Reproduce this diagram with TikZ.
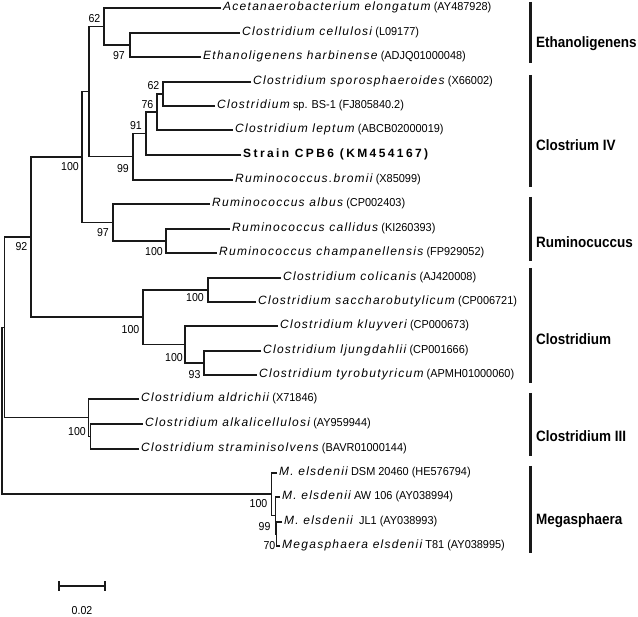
\documentclass[tikz,border=0pt]{standalone}
\usepackage{fontspec}
\setmainfont{Liberation Sans}
\newfontfamily\spfam{Liberation Sans}[LetterSpace=10.5]
\newfontfamily\accfam{Liberation Sans}[FakeStretch=0.95]
\newfontfamily\stfam{Liberation Sans}[LetterSpace=20]
\newfontfamily\grpfam{Liberation Sans}[FakeStretch=0.9]
\newfontfamily\bsfam{Liberation Sans}[FakeStretch=0.92]
\newcommand\spn[1]{{\spfam\itshape\fontsize{12}{14}\selectfont #1}}
\newcommand\acc[1]{{\accfam\fontsize{11.5}{14}\selectfont #1}}
\tikzset{
  leaf/.style={anchor=west, inner xsep=2pt, inner ysep=0pt, text height=8.5pt, text depth=2.5pt,
    font=\fontsize{11.5}{14}\selectfont},
  branch/.style={line width=1.4pt, draw=black!90},
  bs/.style={inner sep=0pt, font=\bsfam\fontsize{11.5}{13}\selectfont},
  grp/.style={anchor=west, inner sep=0pt, font=\grpfam\bfseries\fontsize{15}{17}\selectfont},
  grpbar/.style={line width=3pt, draw=black!90},
}
\begin{document}
\begin{tikzpicture}[x=1pt,y=-1pt]
\useasboundingbox (0,0) rectangle (638,617);
% leaves
\node[leaf] (l1) at (221,8) {\spn{Acetanaerobacterium elongatum} \acc{(AY487928)}};
\node[leaf] (l2) at (240,33) {\spn{Clostridium cellulosi} \acc{(L09177)}};
\node[leaf] (l3) at (201,57) {\spn{Ethanoligenens harbinense} \acc{(ADJQ01000048)}};
\node[leaf] (l4) at (251,82) {\spn{Clostridium sporosphaeroides} \acc{(X66002)}};
\node[leaf] (l5) at (215,106) {\spn{Clostridium} \acc{sp. BS-1 (FJ805840.2)}};
\node[leaf] (l6) at (233,130) {\spn{Clostridium leptum} \acc{(ABCB02000019)}};
\node[leaf] (l7) at (241,155) {\stfam\bfseries\fontsize{12}{14}\selectfont Strain CPB6 (KM454167)};
\node[leaf] (l8) at (233,180) {\spn{Ruminococcus.bromii} \acc{(X85099)}};
\node[leaf] (l9) at (210,204) {\spn{Ruminococcus albus} \acc{(CP002403)}};
\node[leaf] (l10) at (230,229) {\spn{Ruminococcus callidus} \acc{(KI260393)}};
\node[leaf] (l11) at (217,253) {\spn{Ruminococcus champanellensis} \acc{(FP929052)}};
\node[leaf] (l12) at (281,278) {\spn{Clostridium colicanis} \acc{(AJ420008)}};
\node[leaf] (l13) at (256,302) {\spn{Clostridium saccharobutylicum} \acc{(CP006721)}};
\node[leaf] (l14) at (278,326) {\spn{Clostridium kluyveri} \acc{(CP000673)}};
\node[leaf] (l15) at (261,351) {\spn{Clostridium ljungdahlii} \acc{(CP001666)}};
\node[leaf] (l16) at (257,375) {\spn{Clostridium tyrobutyricum} \acc{(APMH01000060)}};
\node[leaf] (l17) at (139,399) {\spn{Clostridium aldrichii} \acc{(X71846)}};
\node[leaf] (l18) at (143,424) {\spn{Clostridium alkalicellulosi} \acc{(AY959944)}};
\node[leaf] (l19) at (139,449) {\spn{Clostridium straminisolvens} \acc{(BAVR01000144)}};
\node[leaf] (l20) at (277,473) {\spn{M. elsdenii} \acc{DSM 20460 (HE576794)}};
\node[leaf] (l21) at (280,497) {\spn{M. elsdenii} \acc{AW 106 (AY038994)}};
\node[leaf] (l22) at (282,522) {\spn{M. elsdenii} \acc{\ JL1 (AY038993)}};
\node[leaf] (l23) at (280,546) {\spn{Megasphaera elsdenii} \acc{T81 (AY038995)}};
% internal nodes
\coordinate (e97) at (130,45);
\coordinate (n62a) at (104,26.5);
\coordinate (n62b) at (163,94);
\coordinate (n76) at (157,112);
\coordinate (n91) at (146,133.5);
\coordinate (n99) at (133,156.75);
\coordinate (na) at (89,91.6);
\coordinate (r100) at (166,241);
\coordinate (r97) at (113,222.5);
\coordinate (nb) at (82,157);
\coordinate (l100) at (208,290);
\coordinate (n93) at (204,363);
\coordinate (m100) at (185,344.5);
\coordinate (k100) at (143,317);
\coordinate (c92) at (31,237);
\coordinate (g) at (90.5,436.5);
\coordinate (f) at (88.5,417.75);
\coordinate (d) at (4.5,327.4);
\coordinate (j) at (276.5,534);
\coordinate (i) at (275.5,515.5);
\coordinate (h) at (271.5,494);
\coordinate (root) at (2,410.7);
% branches
\begin{scope}[branch]
\draw (l2.west) -| (e97); \draw (l3.west) -| (e97);
\draw (l1.west) -| (n62a); \draw (e97) -| (n62a);
\draw (l4.west) -| (n62b); \draw (l5.west) -| (n62b);
\draw (n62b) -| (n76); \draw (l6.west) -| (n76);
\draw (n76) -| (n91); \draw (l7.west) -| (n91);
\draw (n91) -| (n99); \draw (l8.west) -| (n99);
\draw (n62a) -| (na); \draw (n99) -| (na);
\draw (l10.west) -| (r100); \draw (l11.west) -| (r100);
\draw (l9.west) -| (r97); \draw (r100) -| (r97);
\draw (na) -| (nb); \draw (r97) -| (nb);
\draw (l12.west) -| (l100); \draw (l13.west) -| (l100);
\draw (l15.west) -| (n93); \draw (l16.west) -| (n93);
\draw (l14.west) -| (m100); \draw (n93) -| (m100);
\draw (l100) -| (k100); \draw (m100) -| (k100);
\draw (nb) -| (c92); \draw (k100) -| (c92);
\draw (l18.west) -| (g); \draw (l19.west) -| (g);
\draw (l17.west) -| (f); \draw (g) -| (f);
\draw (c92) -| (d); \draw (f) -| (d);
\draw (l22.west) -| (j); \draw (l23.west) -| (j);
\draw (l21.west) -| (i); \draw (j) -| (i);
\draw (l20.west) -| (h); \draw (i) -| (h);
\draw (d) -| (root); \draw (h) -| (root);
\end{scope}
% bootstrap values
\node[bs] (b1) at (94.5,19) {62};
\node[bs] (b2) at (119,56) {97};
\node[bs] (b3) at (153.5,86) {62};
\node[bs] (b4) at (147.5,105) {76};
\node[bs] (b5) at (136,126) {91};
\node[bs] (b6) at (123,169) {99};
\node[bs] (b7) at (70,167) {100};
\node[bs] (b8) at (103,233) {97};
\node[bs] (b9) at (154,252) {100};
\node[bs] (b10) at (21.5,247) {92};
\node[bs] (b11) at (195,298) {100};
\node[bs] (b12) at (130.5,330) {100};
\node[bs] (b13) at (174,358) {100};
\node[bs] (b14) at (194.5,375) {93};
\node[bs] (b15) at (77,432) {100};
\node[bs] (b16) at (258.5,504) {100};
\node[bs] (b17) at (264.5,527) {99};
\node[bs] (b18) at (269.5,546) {70};
% groups
\node[grp] (g1) at (536,44) {Ethanoligenens};
\node[grp] (g2) at (536,145) {Clostrium IV};
\node[grp] (g3) at (536,242) {Ruminocuccus};
\node[grp] (g4) at (536,339) {Clostridium};
\node[grp] (g5) at (536,436) {Clostridium III};
\node[grp] (g6) at (536,521) {Megasphaera};
\draw[grpbar] (530,2) -- (530,63);
\draw[grpbar] (530,75) -- (530,187);
\draw[grpbar] (530,197) -- (530,261);
\draw[grpbar] (530,268) -- (530,383);
\draw[grpbar] (530,393) -- (530,456);
\draw[grpbar] (530,466) -- (530,553);
% scale bar
\coordinate (s1) at (59,586);
\coordinate (s2) at (105,586);
\draw[branch] (s1) -- (s2);
\draw[branch] ([yshift=-5pt]s1) -- ([yshift=5pt]s1);
\draw[branch] ([yshift=-5pt]s2) -- ([yshift=5pt]s2);
\node[bs] (sl) at (82,611) {0.02};
\end{tikzpicture}
\end{document}
